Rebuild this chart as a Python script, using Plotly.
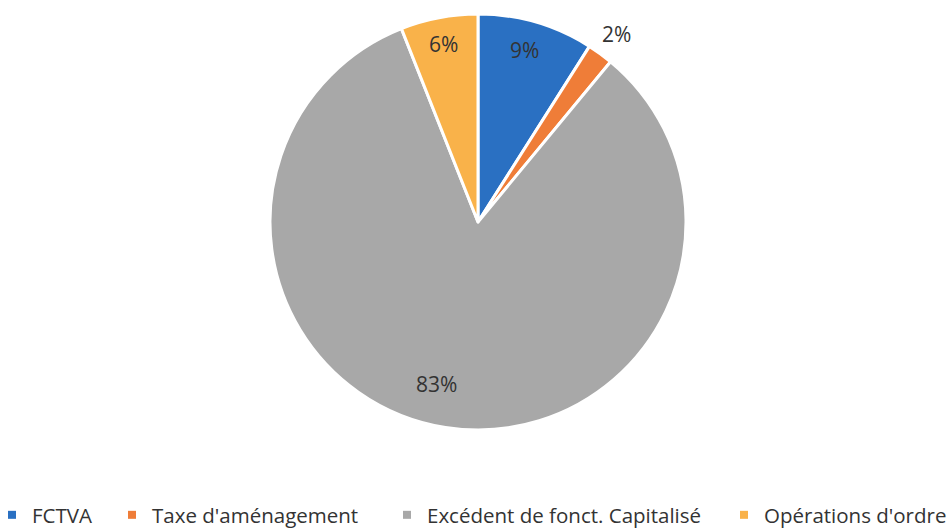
import plotly.graph_objects as go

categories = ["FCTVA", "Taxe d'aménagement", "Excédent de fonct. Capitalisé", "Opérations d'ordre"]
values = [9, 2, 83, 6]
colors = ["#2a70c2", "#ef7d38", "#a8a8a8", "#f9b24a"]

W, H = 952, 530
cx, cy, r = 478, 222, 208

fig = go.Figure(go.Pie(
    labels=categories,
    values=values,
    sort=False,
    direction="clockwise",
    rotation=0,
    marker=dict(colors=colors, line=dict(color="white", width=3)),
    textinfo="none",
    hoverinfo="label+percent",
    showlegend=False,
    domain=dict(x=[(cx - r) / W, (cx + r) / W], y=[(H - cy - r) / H, (H - cy + r) / H]),
))

# data labels (pixel positions of label centres, converted to paper coords)
label_pos = [(524, 50), (616, 34), (436, 384), (443, 44)]
for v, (px, py) in zip(values, label_pos):
    fig.add_annotation(
        x=px / W, y=1 - py / H, xref="paper", yref="paper",
        xanchor="center", yanchor="middle",
        text=f"{v}%", showarrow=False,
        font=dict(family="Open Sans", size=21, color="#333333"),
    )

# legend: one legend box per category so spacing follows the reference
legend_text_x = [32, 152, 427, 764]
layout_legends = {}
for i, (name, col, tx) in enumerate(zip(categories, colors, legend_text_x)):
    lname = "legend" if i == 0 else f"legend{i + 1}"
    fig.add_trace(go.Scatter(
        x=[None], y=[None], mode="markers", name=name,
        marker=dict(symbol="square", size=8, color=col),
        legend=lname, showlegend=True, hoverinfo="skip",
    ))
    layout_legends[lname] = dict(
        orientation="h",
        x=(tx - 40) / W, xanchor="left",
        y=(H - 515) / H, yanchor="middle",
        font=dict(family="Open Sans", size=20.5, color="#333333"),
        bgcolor="rgba(0,0,0,0)",
    )

fig.update_layout(
    width=W, height=H,
    margin=dict(l=0, r=0, t=0, b=0, autoexpand=False),
    paper_bgcolor="white",
    plot_bgcolor="white",
    font=dict(family="Open Sans", color="#404040"),
    xaxis=dict(visible=False),
    yaxis=dict(visible=False),
    **layout_legends,
)

fig.write_html("out.html", config={"displayModeBar": False},
               post_script="document.body.style.margin='0px';")
